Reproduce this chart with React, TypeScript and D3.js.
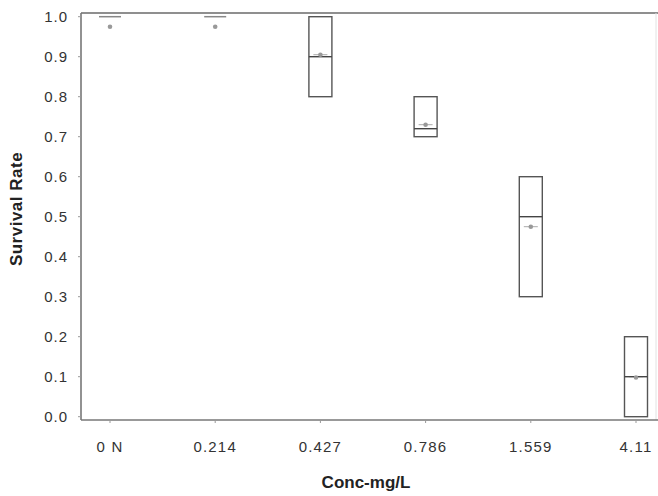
import React from "react";
import * as d3 from "d3";

const categories = ["0 N", "0.214", "0.427", "0.786", "1.559", "4.11"];
const boxLow = [1.0, 1.0, 0.8, 0.7, 0.3, 0.0];
const boxHigh = [1.0, 1.0, 1.0, 0.8, 0.6, 0.2];
const medians = [1.0, 1.0, 0.9, 0.72, 0.5, 0.1];
const means = [0.975, 0.975, 0.905, 0.73, 0.475, 0.098];
const yTicks = [0, 0.1, 0.2, 0.3, 0.4, 0.5, 0.6, 0.7, 0.8, 0.9, 1.0];

const W = 658;
const H = 496;
const plotLeft = 81;
const plotTop = 13;
const plotRight = 656;
const plotBottom = 420;

export default function App() {
  const y = d3.scaleLinear().domain([0, 1]).range([416.7, 16.7]);
  const x = d3
    .scalePoint<string>()
    .domain(categories)
    .range([plotLeft + 29, plotRight - 20]);
  const boxW = 23;
  const font = "'Liberation Sans', Arial, sans-serif";

  return (
    <svg
      width={W}
      height={H}
      style={{ position: "absolute", left: 0, top: 0, background: "#fff" }}
      fontFamily={font}
    >
      {/* frame */}
      <line x1={plotLeft} x2={W} y1={plotTop} y2={plotTop} stroke="#6a6a6a" strokeWidth={1.6} />
      <line x1={plotRight} x2={plotRight} y1={plotTop} y2={plotBottom} stroke="#e2e2e2" strokeWidth={1} />
      <line x1={plotLeft} x2={plotLeft} y1={plotTop} y2={plotBottom} stroke="#777" strokeWidth={1.6} />
      <line x1={plotLeft} x2={W} y1={plotBottom} y2={plotBottom} stroke="#777" strokeWidth={1.6} />

      {/* y ticks */}
      {yTicks.map((t) => (
        <g key={t}>
          <line x1={plotLeft - 3} x2={plotLeft} y1={y(t)} y2={y(t)} stroke="#999" strokeWidth={1} />
          <text
            x={68}
            y={y(t)}
            dy="0.36em"
            textAnchor="end"
            fontSize={15}
            letterSpacing={1}
            fill="#333"
          >
            {d3.format(".1f")(t)}
          </text>
        </g>
      ))}

      {/* x ticks */}
      {categories.map((c) => (
        <g key={c}>
          <line x1={x(c)!} x2={x(c)!} y1={plotBottom} y2={plotBottom + 3} stroke="#999" strokeWidth={1} />
          <text
            x={x(c)!}
            y={452}
            textAnchor="middle"
            fontSize={15}
            letterSpacing={1.2}
            fill="#333"
          >
            {c}
          </text>
        </g>
      ))}

      {/* boxes */}
      {categories.map((c, i) => {
        const cx = x(c)!;
        const lo = y(boxLow[i]);
        const hi = y(boxHigh[i]);
        const degenerate = Math.abs(hi - lo) < 1;
        return (
          <g key={c}>
            {degenerate ? (
              <line x1={cx - 11} x2={cx + 11} y1={hi} y2={hi} stroke="#888" strokeWidth={1.5} />
            ) : (
              <>
                <rect
                  x={cx - boxW / 2}
                  y={hi}
                  width={boxW}
                  height={lo - hi}
                  fill="none"
                  stroke="#555"
                  strokeWidth={1.4}
                />
                <line
                  x1={cx - boxW / 2}
                  x2={cx + boxW / 2}
                  y1={y(medians[i])}
                  y2={y(medians[i])}
                  stroke="#444"
                  strokeWidth={1.4}
                />
                <line
                  x1={cx - 7}
                  x2={cx + 7}
                  y1={y(means[i])}
                  y2={y(means[i])}
                  stroke="#aaa"
                  strokeWidth={1}
                />
              </>
            )}
            <circle cx={cx} cy={y(means[i])} r={2.3} fill="#999" />
          </g>
        );
      })}

      {/* axis titles */}
      <text
        x={366}
        y={488}
        textAnchor="middle"
        fontSize={17}
        fontWeight="bold"
        fill="#222"
      >
        Conc-mg/L
      </text>
      <text
        transform={`translate(22,209) rotate(-90)`}
        textAnchor="middle"
        fontSize={17}
        fontWeight="bold"
        fill="#222"
        letterSpacing={0.5}
      >
        Survival Rate
      </text>
    </svg>
  );
}
